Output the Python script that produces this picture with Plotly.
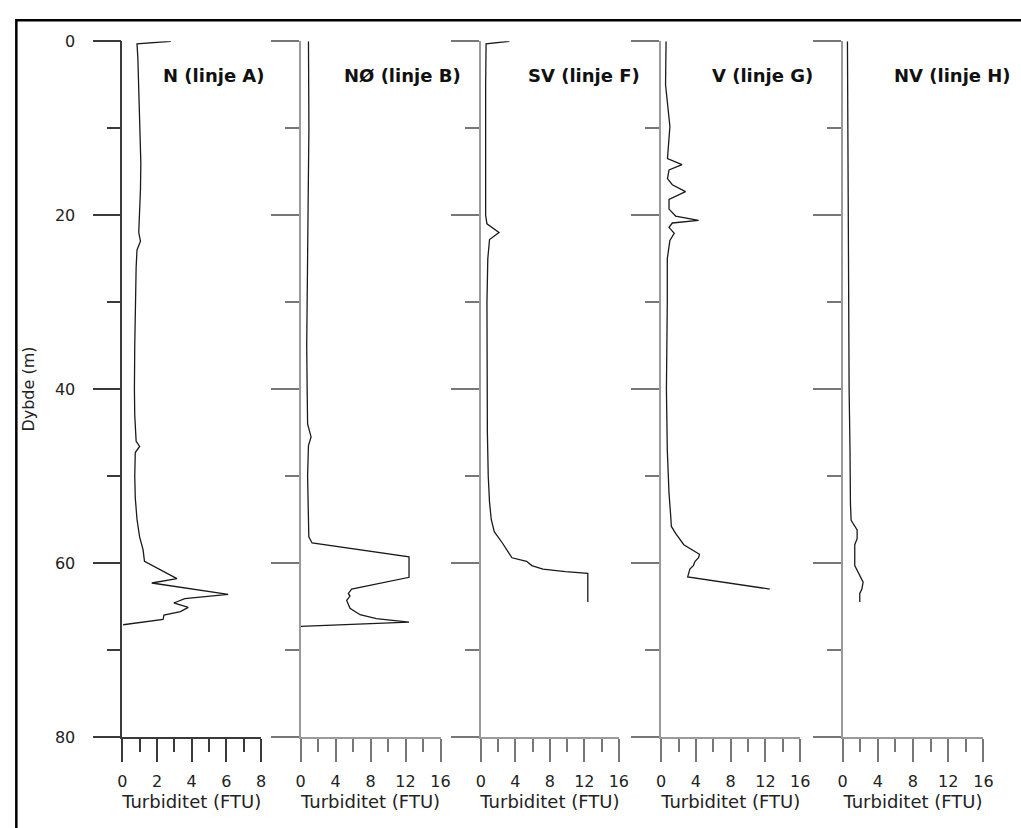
import plotly.graph_objects as go

W, H = 1021, 828

# ---------------- data ----------------
panel_titles = ["N (linje A)", "NØ (linje B)", "SV (linje F)", "V (linje G)", "NV (linje H)"]
x_max = [8, 16, 16, 16, 16]
x_dtick = [2, 4, 4, 4, 4]

depth_A = [0, 0.3, 2, 5, 8, 11, 14, 17, 20, 22, 23, 24, 26, 30, 35, 40, 43, 46, 46.6, 47.3,
           50, 52.5, 55, 57, 58.5, 59.8, 61.8, 62.3, 63.6, 64.1, 64.6, 65.1, 65.6, 66.0, 66.5, 67.1]
turb_A = [2.8, 0.85, 0.9, 0.95, 1.0, 1.05, 1.07, 1.05, 1.0, 0.95, 1.05, 0.85, 0.8, 0.75, 0.72, 0.7,
          0.72, 0.8, 1.0, 0.75, 0.72, 0.75, 0.85, 1.0, 1.2, 1.28, 3.15, 1.7, 6.1, 3.6, 2.97, 3.8,
          3.35, 2.4, 2.35, 0.05]

depth_B = [0, 5, 10, 20, 25, 30, 35, 40, 44, 45.5, 46.5, 50, 54, 57.0, 57.7, 59.3, 61.65, 63.0,
           63.5, 63.8, 64.3, 65.2, 65.95, 66.4, 66.8, 67.3]
turb_B = [0.9, 0.95, 0.95, 0.85, 0.8, 0.7, 0.7, 0.75, 0.8, 1.2, 0.9, 0.8, 0.85, 0.94, 1.32, 12.4,
          12.4, 5.84, 5.46, 5.65, 5.27, 5.65, 6.8, 8.66, 12.4, 0.0]

depth_F = [0, 0.3, 5, 10, 15, 20, 21, 22, 22.8, 25, 30, 40, 45, 50, 53, 55, 55.8, 56.4, 57.7,
           58.5, 59.4, 59.8, 60.3, 60.7, 61.0, 61.2, 64.5]
turb_F = [3.3, 0.6, 0.55, 0.55, 0.55, 0.55, 0.7, 2.1, 1.0, 0.8, 0.7, 0.7, 0.75, 0.85, 1.0, 1.2,
          1.43, 1.55, 2.49, 3.05, 3.6, 5.3, 5.9, 7.2, 9.8, 12.4, 12.4]

depth_G = [0, 5, 9.8, 12, 13.5, 14.2, 14.8, 15.8, 16.5, 17.3, 18.2, 19.3, 20.1, 20.6, 20.9, 21.4,
           22.1, 22.9, 25, 30, 40, 47, 52, 54.7, 55.8, 56.6, 57.9, 59.0, 59.4, 59.8, 60.3, 60.7,
           61.6, 63.0]
turb_G = [0.56, 0.5, 1.0, 0.8, 0.72, 2.4, 0.9, 0.72, 1.28, 2.8, 0.9, 0.9, 1.66, 4.3, 1.28, 0.9,
          1.5, 1.0, 0.7, 0.7, 0.6, 0.7, 0.9, 1.1, 1.17, 1.66, 2.6, 4.4, 4.3, 3.9, 3.7, 3.3, 3.05,
          12.5]

depth_H = [0, 10, 20, 30, 40, 47, 52.5, 53.2, 55.1, 56.2, 57.2, 57.9, 60.3, 61.3, 62.2, 63.0,
           63.5, 64.5]
turb_H = [0.56, 0.6, 0.65, 0.7, 0.75, 0.85, 0.83, 0.9, 0.98, 1.66, 1.66, 1.39, 1.39, 1.85, 2.34,
          2.2, 1.96, 1.96]

depths = [depth_A, depth_B, depth_F, depth_G, depth_H]
turbs = [turb_A, turb_B, turb_F, turb_G, turb_H]

# ---------------- layout geometry (pixels) ----------------
ax_left = [119, 300, 483, 666, 850]
ax_right = [260, 442, 623, 807, 993]
title_cx = [212, 403, 588, 769, 962]
y_top_px, y_bot_px = 33, 745


def fx(px):
    return px / W


def fy(py):
    return 1 - py / H


fig = go.Figure()
FONT = "DejaVu Sans"

for i in range(5):
    n = "" if i == 0 else str(i + 1)
    fig.add_trace(go.Scatter(
        x=turbs[i], y=depths[i], mode="lines",
        line=dict(color="#1a1a1a", width=1.3),
        xaxis="x" + n, yaxis="y" + n, showlegend=False, hoverinfo="skip",
    ))
    axcol = "#3a3a3a" if i == 0 else "#9a9a9a"
    tkcol = "#3a3a3a" if i == 0 else "#777777"
    fig.layout["xaxis" + n] = dict(
        domain=[fx(ax_left[i]), fx(ax_right[i])], anchor="y" + n,
        range=[0, x_max[i]], tickmode="linear", tick0=0, dtick=x_dtick[i],
        ticks="outside", ticklen=23, tickwidth=1.5, tickcolor=tkcol,
        minor=dict(ticks="outside", dtick=x_dtick[i] / 2, ticklen=13, tickwidth=1.5,
                   tickcolor=tkcol, showgrid=False),
        showline=True, linecolor=axcol, linewidth=1.5,
        showgrid=False, zeroline=False,
        tickfont=dict(family=FONT, size=16, color="#222"),
        ticklabelstandoff=6,
        title=dict(text="Turbiditet (FTU)", font=dict(family=FONT, size=18, color="#222"),
                   standoff=1),
    )
    ydict = dict(
        domain=[fy(y_bot_px), fy(y_top_px)], anchor="x" + n,
        range=[80, 0], tickmode="linear", tick0=0, dtick=20,
        ticks="outside", ticklen=28, tickwidth=1.5, tickcolor=tkcol,
        minor=dict(ticks="outside", dtick=10, ticklen=14, tickwidth=1.5,
                   tickcolor=tkcol, showgrid=False),
        showline=True, linecolor=axcol, linewidth=1.5,
        showgrid=False, zeroline=False,
        showticklabels=(i == 0),
        tickfont=dict(family=FONT, size=16, color="#222"),
    )
    if i == 0:
        ydict["ticklabelstandoff"] = 14
        ydict["title"] = dict(text="Dybde (m)", font=dict(family=FONT, size=16, color="#222"),
                              standoff=16)
    fig.layout["yaxis" + n] = ydict
    fig.add_annotation(
        x=fx(title_cx[i]), y=fy(68), xref="paper", yref="paper",
        text="<b>" + panel_titles[i] + "</b>", showarrow=False,
        font=dict(family=FONT, size=18, color="#111"),
        xanchor="center", yanchor="middle",
    )

# outer black frame (its right and bottom edges lie outside the picture)
fig.add_shape(type="rect", xref="paper", yref="paper",
              x0=fx(11.5), x1=1.2, y0=-0.2, y1=fy(11.5),
              line=dict(color="black", width=2.5))

fig.update_layout(
    width=W, height=H, autosize=False, margin=dict(l=0, r=0, t=0, b=0),
    paper_bgcolor="white", plot_bgcolor="white",
    font=dict(family=FONT),
)

fig.write_html(
    "out.html",
    config={"responsive": False, "displayModeBar": False},
    post_script="document.body.style.margin='0px';document.body.style.overflow='hidden';",
)
